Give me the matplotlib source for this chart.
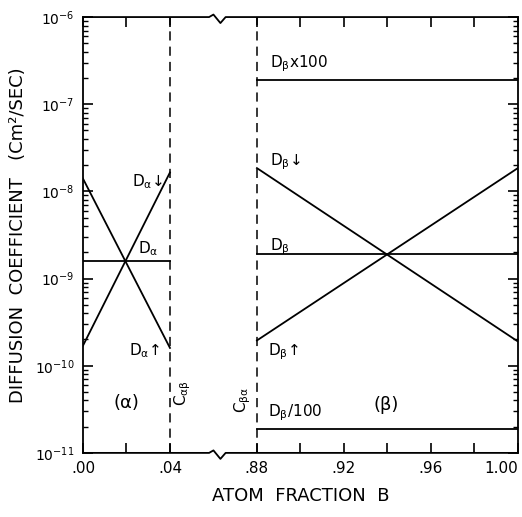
import numpy as np
import matplotlib
matplotlib.use("Agg")
import matplotlib.pyplot as plt
from matplotlib.lines import Line2D

# ---------------------------
# Data
# ---------------------------
x_alpha = [0.00, 0.04]
d_alpha = [1.6e-9, 1.6e-9]
d_alpha_down = [1.4e-8, 1.6e-10]
d_alpha_up = [1.7e-10, 1.65e-8]

x_beta = [0.88, 1.00]
d_beta = [1.9e-9, 1.9e-9]
d_beta_x100 = [1.9e-7, 1.9e-7]
d_beta_div100 = [1.9e-11, 1.9e-11]
d_beta_down = [1.85e-8, 1.9e-10]
d_beta_up = [1.95e-10, 1.85e-8]

phase_bounds = [0.04, 0.88]

xticks = [0.00, 0.02, 0.04, 0.88, 0.90, 0.92, 0.94, 0.96, 0.98, 1.00]
xtick_labels = [".00", "", ".04", ".88", "", ".92", "", ".96", "", "1.00"]
yticks = [1e-11, 1e-10, 1e-9, 1e-8, 1e-7, 1e-6]
ytick_labels = [r"$10^{-11}$", r"$10^{-10}$", r"$10^{-9}$", r"$10^{-8}$", r"$10^{-7}$", r"$10^{-6}$"]


# broken x axis: squeeze out 0.04 .. 0.84 so .88 sits right after the gap
def fwd(x):
    x = np.asarray(x, dtype=float)
    return np.where(x < 0.46, x, x - 0.80)


def inv(u):
    u = np.asarray(u, dtype=float)
    return np.where(u < 0.06, u, u + 0.80)


fig = plt.figure(figsize=(5.22, 5.17), dpi=100)
ax = fig.add_axes([0.159, 0.124, 0.833, 0.843])
ax.set_xscale("function", functions=(fwd, inv))
ax.set_yscale("log")
ax.set_xlim(0.0, 1.0)
ax.set_ylim(1e-11, 1e-6)

lw = 1.3
for y in [d_alpha, d_alpha_down, d_alpha_up]:
    ax.plot(x_alpha, y, color="black", lw=lw)
for y in [d_beta, d_beta_x100, d_beta_div100, d_beta_down, d_beta_up]:
    ax.plot(x_beta, y, color="black", lw=lw)
for xb in phase_bounds:
    ax.axvline(xb, color="black", lw=1.1, ls=(0, (6, 4)))

# ticks
ax.set_xticks(xticks)
ax.set_xticklabels(xtick_labels, fontsize=11)
ax.get_xticklabels()[-1].set_ha("right")
ax.set_yticks(yticks)
ax.set_yticklabels(ytick_labels, fontsize=10)
ax.tick_params(axis="both", which="major", direction="in", length=7, width=1.2,
               top=True, right=True, pad=6)
ax.tick_params(axis="y", which="minor", direction="in", length=3.5, width=1.0,
               left=True, right=True)
ax.minorticks_on()
ax.xaxis.set_minor_locator(matplotlib.ticker.NullLocator())
for s in ax.spines.values():
    s.set_linewidth(1.3)

# top / bottom spines with a zigzag break
ax.spines["top"].set_visible(False)
ax.spines["bottom"].set_visible(False)
px = 1.0 / 436
for yb in [0.0, 1.0]:
    zx = [0.0, 0.29, 0.30, 0.316, 0.328, 1.0]
    zy = [yb, yb, yb + 2.5 * px, yb - 6 * px, yb, yb]
    ax.add_line(Line2D(zx, zy, transform=ax.transAxes, color="black", lw=1.3,
                       clip_on=False))

# annotations
fs = 11
ax.text(0.037, 1.3e-8, r"$\mathregular{D_\alpha}$↓", fontsize=fs, ha="right", va="center")
ax.text(0.0253, 2.2e-9, r"$\mathregular{D_\alpha}$", fontsize=fs, ha="left", va="center")
ax.text(0.0355, 1.5e-10, r"$\mathregular{D_\alpha}$↑", fontsize=fs, ha="right", va="center")
ax.text(0.0198, 3.7e-11, "(α)", fontsize=13, ha="center", va="center")
ax.text(0.046, 4.9e-11, r"$\mathregular{C_{\alpha\beta}}$", fontsize=fs, ha="center",
        va="center", rotation=90)
ax.text(0.8735, 4.1e-11, r"$\mathregular{C_{\beta\alpha}}$", fontsize=fs, ha="center",
        va="center", rotation=90)
ax.text(0.886, 2.95e-7, r"$\mathregular{D_\beta}$x100", fontsize=fs, ha="left", va="center")
ax.text(0.886, 2.2e-8, r"$\mathregular{D_\beta}$↓", fontsize=fs, ha="left", va="center")
ax.text(0.886, 2.3e-9, r"$\mathregular{D_\beta}$", fontsize=fs, ha="left", va="center")
ax.text(0.885, 1.45e-10, r"$\mathregular{D_\beta}$↑", fontsize=fs, ha="left", va="center")
ax.text(0.885, 2.9e-11, r"$\mathregular{D_\beta}$/100", fontsize=fs, ha="left", va="center")
ax.text(0.9393, 3.5e-11, "(β)", fontsize=13, ha="center", va="center")

ax.set_xlabel("ATOM  FRACTION  B", fontsize=13, labelpad=8)
ax.set_ylabel("DIFFUSION  COEFFICIENT   (Cm²/SEC)", fontsize=13, labelpad=6)

fig.savefig("out.png", dpi=100)
